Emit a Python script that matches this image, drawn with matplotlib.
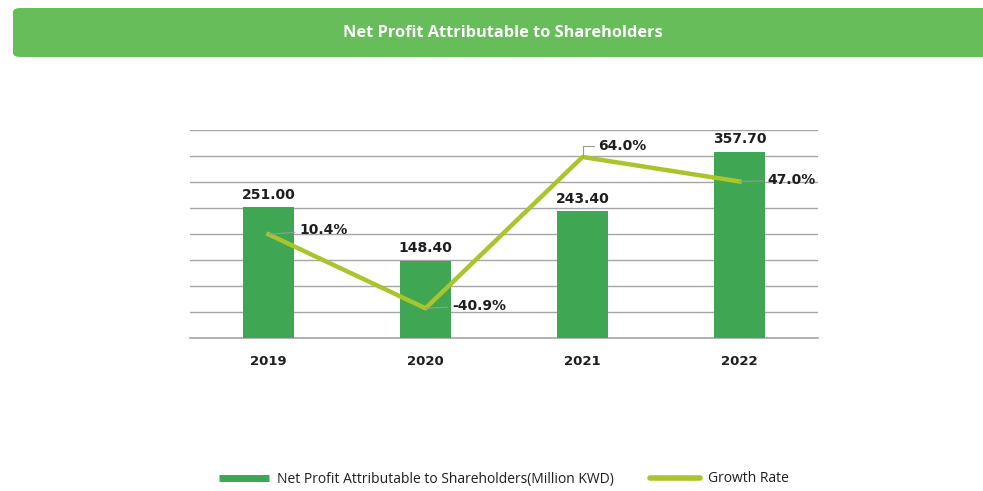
"""Net profit attributable to shareholders: bars + growth-rate line."""
import matplotlib

matplotlib.use("Agg")
import matplotlib.pyplot as plt
from matplotlib.lines import Line2D
from matplotlib.patches import FancyBboxPatch

years = ["2019", "2020", "2021", "2022"]
net_profit = [251.00, 148.40, 243.40, 357.70]
growth = [10.4, -40.9, 64.0, 47.0]

BAR_GREEN = "#3FA654"
LINE_GREEN = "#A9C52B"
BANNER_GREEN = "#66BD5A"
GRID = "#A6A6A6"
INK = "#1E1E1E"

plt.rcParams["font.family"] = ["Open Sans", "DejaVu Sans"]
NUM_FONT = "DejaVu Sans"  # wider bold digits, closer to the source

W, H = 983, 491
fig = plt.figure(figsize=(W / 100, H / 100), dpi=100)

# title banner
banner = FancyBboxPatch(
    (13 / W, 1 - 57 / H), 1.0, 49 / H,
    boxstyle="round,pad=0,rounding_size=0.008",
    transform=fig.transFigure, facecolor=BANNER_GREEN, edgecolor="none",
)
fig.add_artist(banner)
fig.text(503 / W, 1 - 33 / H, "Net Profit Attributable to Shareholders",
         ha="center", va="center", color="white", fontsize=11.8, fontweight="bold")

ax = fig.add_axes([190 / W, 1 - 338 / H, 628 / W, 208 / H])
x = list(range(len(years)))
ax.bar(x, net_profit, width=0.32, color=BAR_GREEN, zorder=2)
ax.set_xlim(-0.5, 3.5)
ax.set_ylim(0, 400)
ax.set_yticks(range(0, 401, 50))
ax.yaxis.grid(True, color=GRID, lw=1, zorder=0)
ax.axhline(0, color=GRID, lw=1.2, clip_on=False, zorder=1)
ax.tick_params(axis="y", length=0, labelleft=False)
ax.tick_params(axis="x", length=0, pad=12)
ax.set_xticks(x)
ax.set_xticklabels(years, fontsize=9.5, fontweight="bold", color=INK, family=NUM_FONT)
for s in ax.spines.values():
    s.set_visible(False)

for xi, v in zip(x, net_profit):
    ax.annotate(f"{v:.2f}", (xi, v), xytext=(0, 4), textcoords="offset points",
                ha="center", va="bottom", fontsize=10, fontweight="bold",
                color=INK, family=NUM_FONT)

ax2 = ax.twinx()
ax2.set_ylim(-61.5, 82.7)
ax2.axis("off")
ax2.plot(x, growth, color=LINE_GREEN, lw=3.2, zorder=3)

offsets = [(22, 3), (19, 2), (11, 8), (20, 1)]
for xi, g, off in zip(x, growth, offsets):
    conn = "angle,angleA=0,angleB=90,rad=0" if off[1] > 5 else "arc3"
    ax2.annotate(f"{g:.1f}%", (xi, g), xytext=off, textcoords="offset points",
                 ha="left", va="center", fontsize=10, fontweight="bold",
                 color=INK, family=NUM_FONT,
                 arrowprops=dict(arrowstyle="-", color="#999999", lw=0.8,
                                 connectionstyle=conn, shrinkA=1, shrinkB=0))

handles = [
    Line2D([0], [0], color=BAR_GREEN, lw=5, solid_capstyle="butt",
           label="Net Profit Attributable to Shareholders(Million KWD)"),
    Line2D([0], [0], color=LINE_GREEN, lw=4, solid_capstyle="round", label="Growth Rate"),
]
fig.legend(handles=handles, loc="center", bbox_to_anchor=(504 / W, 1 - 479 / H),
           ncol=2, frameon=False, fontsize=10, handlelength=3.6,
           handletextpad=0.55, columnspacing=2.6, labelcolor=INK)

fig.savefig("out.png", dpi=100)
